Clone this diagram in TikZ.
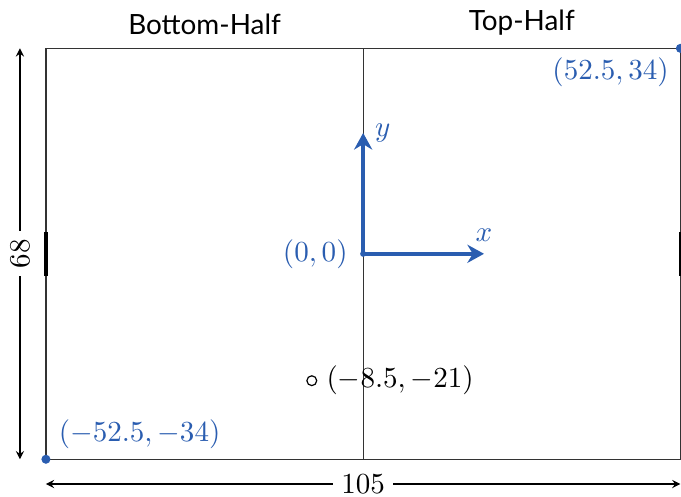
\documentclass[tikz,border=0pt]{standalone}
\usepackage{fontspec}
\newfontfamily\labelfont{Lato}
\usepackage{xcolor}
\definecolor{cBlue}{HTML}{2A5DB0}
\definecolor{cLine}{HTML}{333333}
\usetikzlibrary{positioning,arrows.meta}
\tikzset{
  field-line/.style={draw=cLine,line width=0.45pt},
  goal-mark/.style={draw=black,line width=1.3pt},
  axis-arrow/.style={-{Stealth[length=2.2mm,width=2.4mm]},line width=1.6pt,draw=cBlue},
  dim-arrow/.style={{Stealth[length=1.1mm,width=1.1mm,inset=0.4mm]}-{Stealth[length=1.1mm,width=1.1mm,inset=0.4mm]},line width=0.45pt,draw=black},
  dim-label/.style={fill=white,inner sep=3pt},
  pt-dot/.style={circle,fill=cBlue,inner sep=0pt,minimum size=1.1mm},
  pt-label/.style={text=cBlue},
  half-label/.style={font=\labelfont\fontsize{10.5}{12}\selectfont},
}

\begin{document}
\begin{tikzpicture}[x=0.8mm,y=0.8mm,font=\fontsize{11}{13}\selectfont]
  \useasboundingbox (-60.1,-40.2) rectangle (52.6,42.0);
  % field and centre line
  \coordinate (sw) at (-52.5,-34);
  \coordinate (ne) at (52.5,34);
  \coordinate (mid-top) at (0,34);
  \coordinate (mid-bot) at (0,-34);
  \draw[field-line] (sw) rectangle (ne);
  \draw[field-line] (mid-bot) -- (mid-top);
  % goal mouths
  \draw[goal-mark] (-52.5,-3.66) -- (-52.5,3.66);
  \draw[goal-mark] (52.5,-3.66) -- (52.5,3.66);
  % halves
  \node[half-label,above=1.5pt] (bot-half) at (-26.25,34) {Bottom-Half};
  \node[half-label,above=1.5pt] (top-half) at (26.25,34) {Top-Half};
  % corner points
  \node[pt-dot,minimum size=1.2mm] (p-sw) at (sw) {};
  \node[pt-dot,minimum size=1.2mm] (p-ne) at (ne) {};
  \node[pt-label,above right=-1pt and 0pt of p-sw] (l-sw) {$(-52.5,-34)$};
  \node[pt-label,below left=-1.5pt and -0.5pt of p-ne] (l-ne) {$(52.5,34)$};
  % origin and axes
  \node[pt-dot,minimum size=0.8mm] (o) at (0,0) {};
  \node[pt-label,left=1pt of o] (l-o) {$(0,0)$};
  \coordinate (x-end) at (20,0);
  \coordinate (y-end) at (0,20);
  \draw[axis-arrow] (o.center) -- (x-end);
  \draw[axis-arrow] (o.center) -- (y-end);
  \node[pt-label,above=1pt] (l-x) at (x-end) {$x$};
  \node[pt-label,right=1pt] (l-y) at (y-end) {$y$};
  % sample point
  \node[circle,draw=black,line width=0.45pt,inner sep=0pt,minimum size=1.3mm] (q) at (-8.5,-21) {};
  \node[right=0pt of q] (l-q) {$(-8.5,-21)$};
  % dimensions
  \coordinate (dim-l) at (-52.5,-38.1);
  \coordinate (dim-r) at (52.5,-38.1);
  \coordinate (dim-b) at (-56.8,-34);
  \coordinate (dim-t) at (-56.8,34);
  \draw[dim-arrow] (dim-l) -- node[dim-label] (w-lab) {$105$} (dim-r);
  \draw[dim-arrow] (dim-b) -- node[dim-label,rotate=90] (h-lab) {$68$} (dim-t);
\end{tikzpicture}
\end{document}
